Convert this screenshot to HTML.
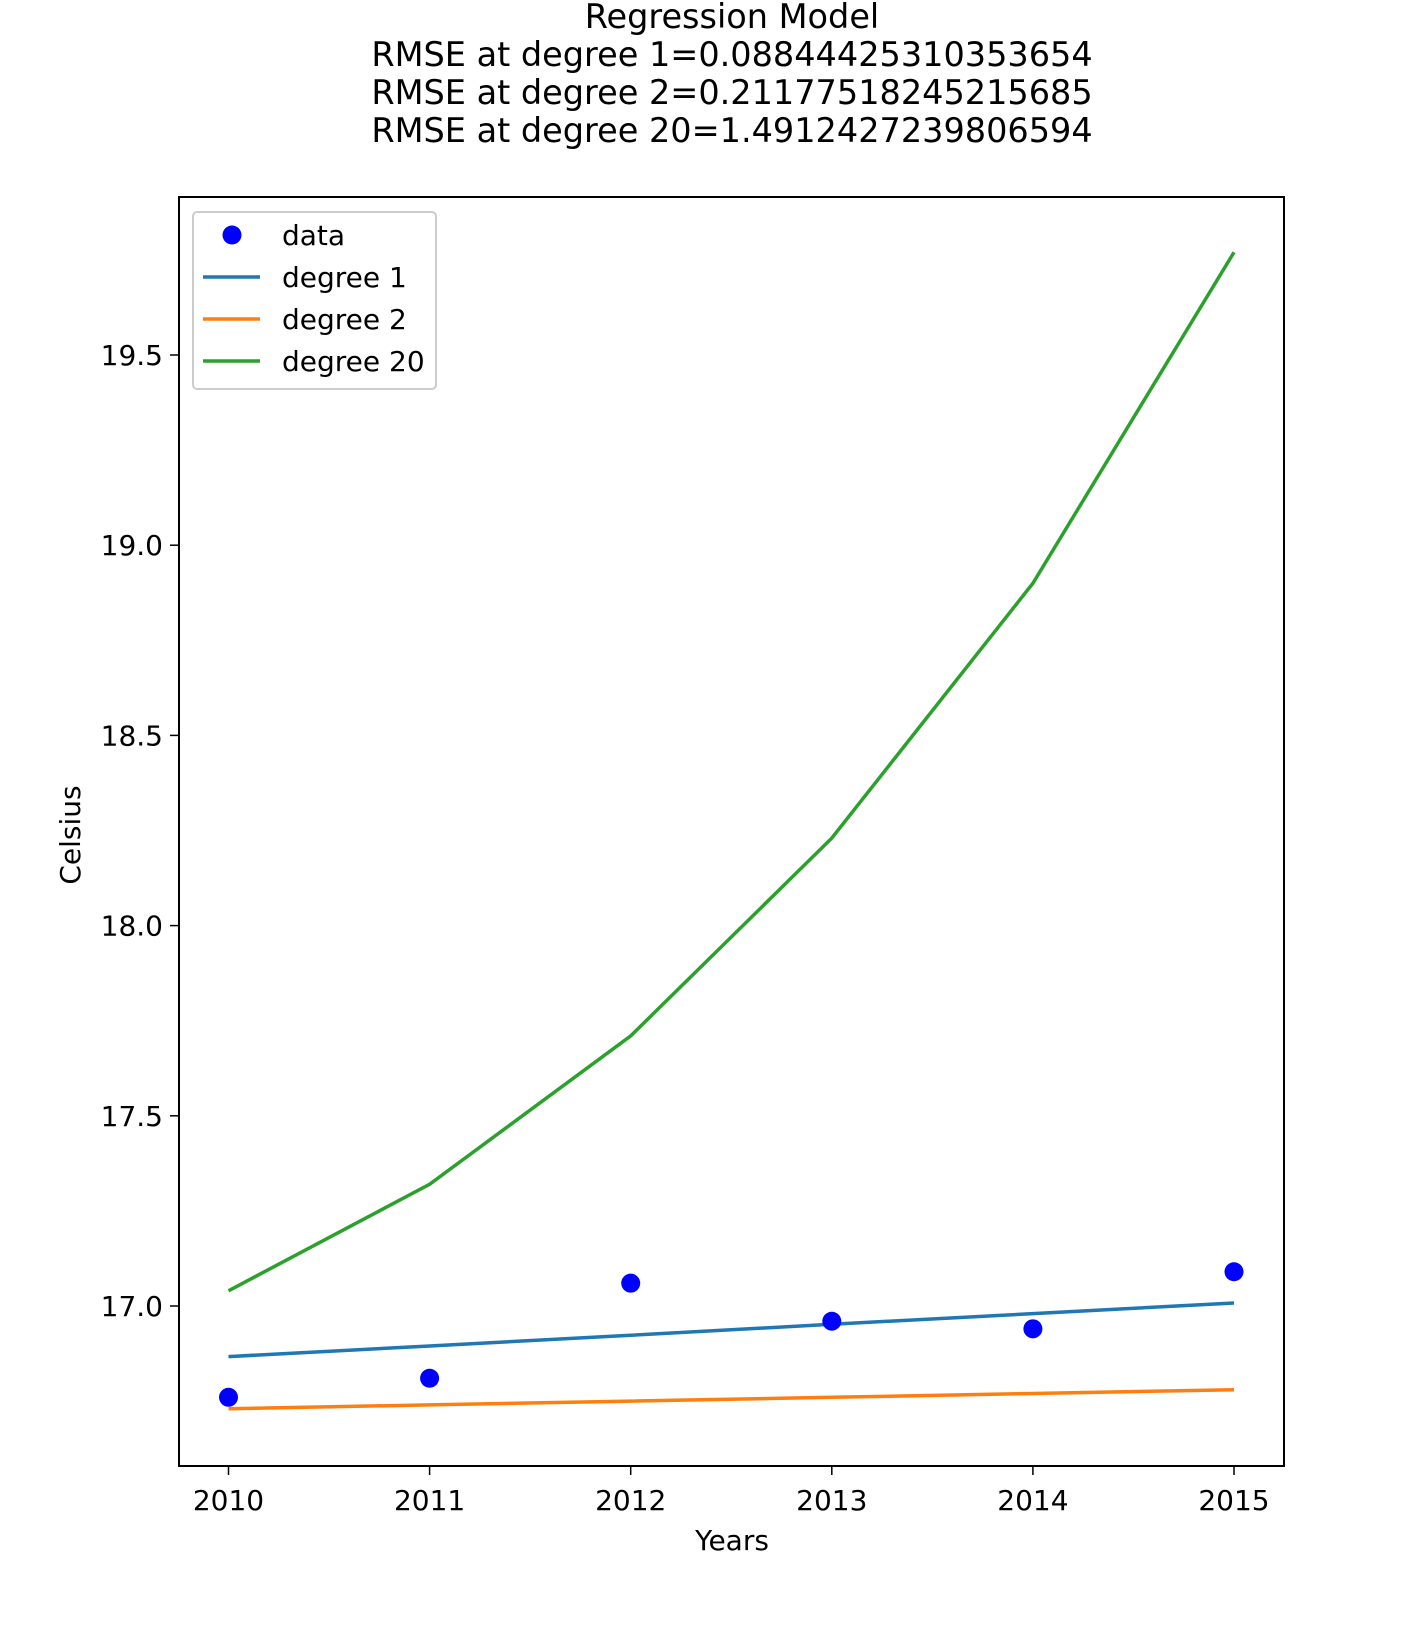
<!DOCTYPE html>
<html><head><meta charset="utf-8"><style>
body{margin:0;background:#fff}
svg text{font-family:"DejaVu Sans","Liberation Sans",sans-serif;fill:#000}
</style></head><body>
<svg id="chart" width="1422" height="1642" xmlns="http://www.w3.org/2000/svg">
<g font-size="33.5" text-anchor="middle">
<text x="732" y="28">Regression Model</text>
<text x="732" y="66">RMSE at degree 1=0.08844425310353654</text>
<text x="732" y="104">RMSE at degree 2=0.21177518245215685</text>
<text x="732" y="142">RMSE at degree 20=1.4912427239806594</text>
</g>
<g id="plot"></g>
</svg>
<script>
const years=[2010,2011,2012,2013,2014,2015];
const dataVals=[16.76,16.81,17.06,16.96,16.94,17.09];
const deg1=[16.867,16.895,16.923,16.952,16.98,17.008];
const deg2=[16.73,16.74,16.75,16.76,16.77,16.78];
const deg20=[17.04,17.32,17.71,18.23,18.90,19.77];
const yTicks=[17.0,17.5,18.0,18.5,19.0,19.5];
const L=179,R=1284,T=197,B=1466;
function xs(v){return 228.5+(v-2010)*(1234-228.5)/5;}
function ys(v){return 1306-(v-17)*(1306-355)/2.5;}
const NS='http://www.w3.org/2000/svg';
const g=document.getElementById('plot');
function mk(t,a,p){const e=document.createElementNS(NS,t);for(const k in a)e.setAttribute(k,a[k]);(p||g).appendChild(e);return e;}
function line(vals,color,name){
 const e=mk('polyline',{points:vals.map((v,i)=>xs(years[i])+','+ys(v)).join(' '),fill:'none',stroke:color,'stroke-width':3.5});
 
 
}
line(deg1,'#1f77b4','degree-1-line');
line(deg2,'#ff7f0e','degree-2-line');
line(deg20,'#2ca02c','degree-20-line');
dataVals.forEach((v,i)=>{const c=mk('circle',{cx:xs(years[i]),cy:ys(v),r:9.5,fill:'#0000ff'});
 
 });
const fr=mk('rect',{x:L,y:T,width:R-L,height:B-T,fill:'none',stroke:'#000','stroke-width':2});


years.forEach(y=>{mk('line',{x1:xs(y),x2:xs(y),y1:B,y2:B+9,stroke:'#000','stroke-width':1.5});
 const t=mk('text',{x:xs(y),y:B+44,'font-size':28,'text-anchor':'middle'});t.textContent=y;
 
 });
yTicks.forEach(v=>{mk('line',{x1:L-9,x2:L,y1:ys(v),y2:ys(v),stroke:'#000','stroke-width':1.5});
 const t=mk('text',{x:L-16,y:ys(v)+10,'font-size':28,'text-anchor':'end'});t.textContent=v.toFixed(1);
 
 });
const xl=mk('text',{x:732,y:1550,'font-size':28,'text-anchor':'middle'});xl.textContent='Years';


const yl=mk('text',{x:0,y:0,'font-size':28,'text-anchor':'middle',transform:'translate(80,835) rotate(-90)'});yl.textContent='Celsius';


const lg=mk('g',{});


mk('rect',{x:193,y:212,width:243,height:177,rx:4,fill:'#fff',stroke:'#ccc','stroke-width':2},lg);
const entries=[['data','#0000ff',true],['degree 1','#1f77b4'],['degree 2','#ff7f0e'],['degree 20','#2ca02c']];
entries.forEach((e,i)=>{const y=235+i*42;
 const eg=mk('g',{},lg);
 
 
 if(e[2])mk('circle',{cx:232,cy:y,r:9.5,fill:e[1]},eg);else mk('line',{x1:203,x2:260,y1:y,y2:y,stroke:e[1],'stroke-width':3.5},eg);
 const t=mk('text',{x:282,y:y+10,'font-size':28},eg);t.textContent=e[0];});
</script>
</body></html>
